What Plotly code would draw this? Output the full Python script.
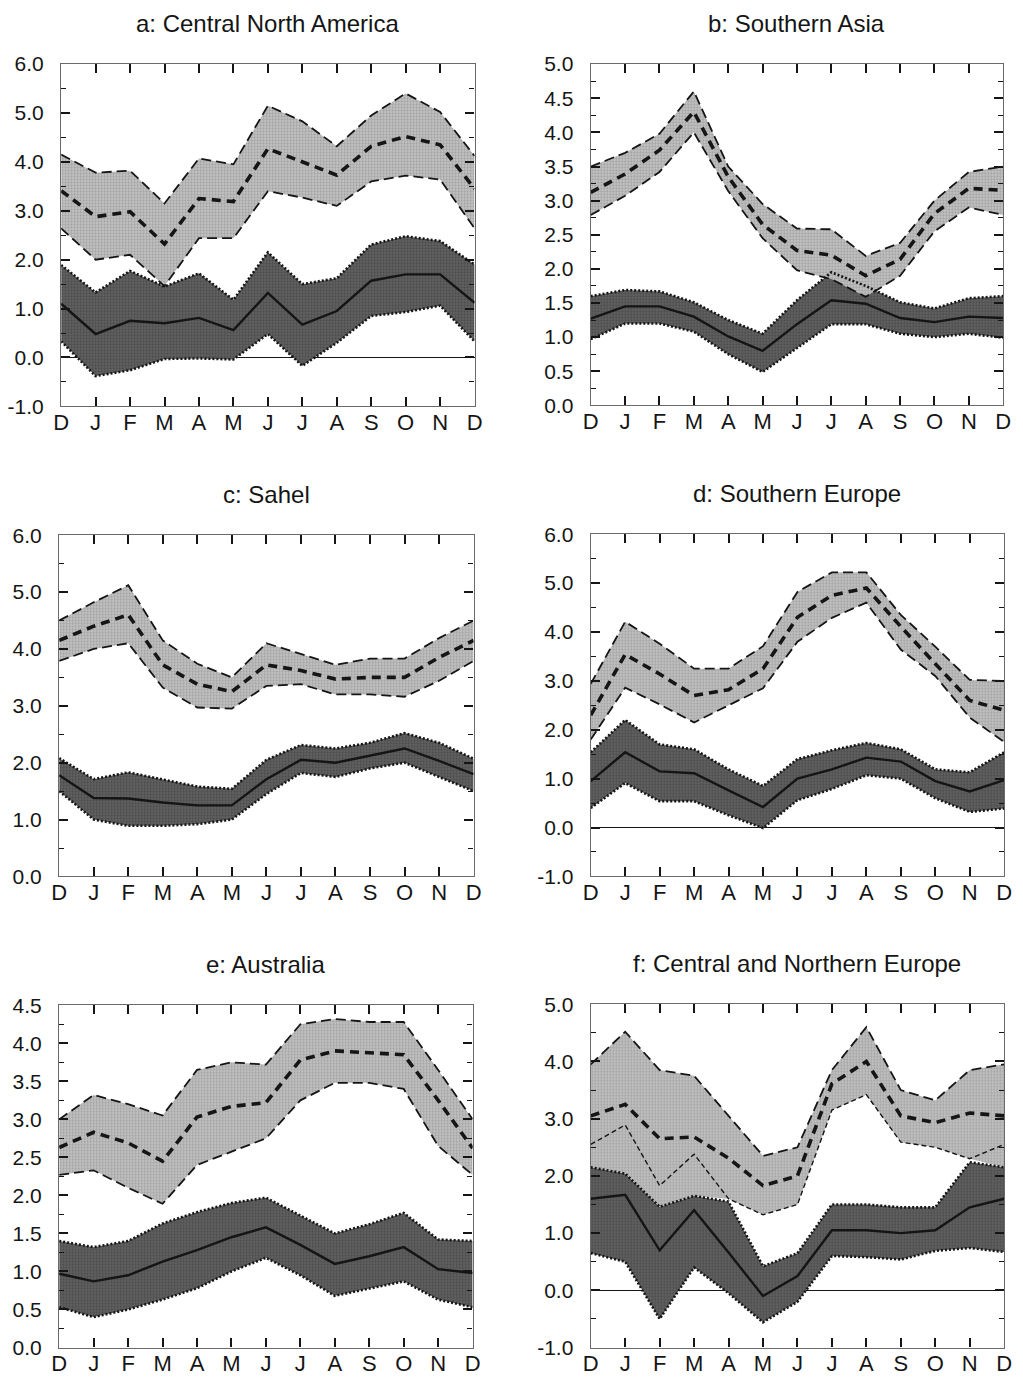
import plotly.graph_objects as go

W, H = 1023, 1389

months = ["D", "J", "F", "M", "A", "M", "J", "J", "A", "S", "O", "N", "D"]
x = list(range(len(months)))

# a: Central North America
a_light_up = [4.15, 3.78, 3.82, 3.15, 4.07, 3.95, 5.15, 4.83, 4.32, 4.95, 5.40, 5.02, 4.12]
a_light_mid = [3.41, 2.88, 2.98, 2.32, 3.25, 3.19, 4.27, 4.00, 3.73, 4.32, 4.52, 4.35, 3.45]
a_light_lo = [2.64, 2.00, 2.10, 1.46, 2.44, 2.44, 3.40, 3.27, 3.10, 3.60, 3.72, 3.64, 2.64]
a_dark_up = [1.89, 1.33, 1.77, 1.45, 1.72, 1.18, 2.15, 1.50, 1.62, 2.31, 2.48, 2.38, 1.90]
a_dark_mid = [1.10, 0.48, 0.75, 0.70, 0.81, 0.56, 1.32, 0.67, 0.95, 1.57, 1.70, 1.70, 1.12]
a_dark_lo = [0.33, -0.38, -0.26, -0.03, -0.02, -0.04, 0.48, -0.17, 0.30, 0.85, 0.93, 1.06, 0.33]

# b: Southern Asia
b_light_up = [3.50, 3.70, 3.98, 4.60, 3.50, 2.95, 2.59, 2.58, 2.19, 2.38, 3.00, 3.42, 3.50]
b_light_mid = [3.12, 3.39, 3.74, 4.30, 3.35, 2.65, 2.27, 2.20, 1.90, 2.14, 2.81, 3.18, 3.15]
b_light_lo = [2.79, 3.07, 3.42, 4.00, 3.14, 2.45, 1.98, 1.85, 1.59, 1.90, 2.55, 2.90, 2.79]
b_dark_up = [1.60, 1.69, 1.67, 1.51, 1.25, 1.05, 1.54, 1.95, 1.75, 1.51, 1.42, 1.57, 1.60]
b_dark_mid = [1.27, 1.45, 1.45, 1.30, 1.01, 0.80, 1.19, 1.54, 1.49, 1.28, 1.22, 1.30, 1.28]
b_dark_lo = [0.97, 1.20, 1.20, 1.08, 0.75, 0.49, 0.84, 1.19, 1.19, 1.05, 1.00, 1.05, 0.99]

# c: Sahel
c_light_up = [4.50, 4.82, 5.12, 4.15, 3.74, 3.50, 4.10, 3.91, 3.72, 3.83, 3.83, 4.19, 4.50]
c_light_mid = [4.15, 4.40, 4.60, 3.72, 3.38, 3.25, 3.72, 3.62, 3.47, 3.50, 3.50, 3.85, 4.15]
c_light_lo = [3.79, 4.00, 4.10, 3.32, 2.97, 2.95, 3.35, 3.38, 3.20, 3.20, 3.16, 3.44, 3.79]
c_dark_up = [2.08, 1.71, 1.83, 1.70, 1.58, 1.54, 2.05, 2.31, 2.25, 2.35, 2.52, 2.35, 2.07]
c_dark_mid = [1.78, 1.38, 1.37, 1.30, 1.25, 1.25, 1.71, 2.05, 2.00, 2.12, 2.25, 2.03, 1.80]
c_dark_lo = [1.50, 1.00, 0.89, 0.89, 0.92, 1.00, 1.45, 1.82, 1.75, 1.90, 2.00, 1.75, 1.50]

# d: Southern Europe
d_light_up = [2.94, 4.21, 3.76, 3.25, 3.25, 3.71, 4.82, 5.22, 5.22, 4.35, 3.70, 3.02, 3.00]
d_light_mid = [2.30, 3.54, 3.14, 2.70, 2.82, 3.25, 4.30, 4.75, 4.90, 4.11, 3.35, 2.60, 2.40]
d_light_lo = [1.80, 2.86, 2.52, 2.15, 2.50, 2.85, 3.80, 4.29, 4.60, 3.64, 3.10, 2.25, 1.75]
d_dark_up = [1.54, 2.20, 1.70, 1.60, 1.19, 0.85, 1.40, 1.58, 1.73, 1.60, 1.19, 1.13, 1.54]
d_dark_mid = [0.95, 1.54, 1.15, 1.11, 0.76, 0.42, 1.00, 1.19, 1.43, 1.35, 0.95, 0.74, 0.97]
d_dark_lo = [0.40, 0.91, 0.54, 0.54, 0.25, -0.01, 0.56, 0.79, 1.07, 1.00, 0.60, 0.32, 0.39]

# e: Australia
e_light_up = [3.00, 3.32, 3.20, 3.05, 3.65, 3.75, 3.72, 4.25, 4.32, 4.28, 4.28, 3.65, 3.00]
e_light_mid = [2.63, 2.83, 2.69, 2.45, 3.03, 3.17, 3.22, 3.78, 3.90, 3.88, 3.85, 3.25, 2.62]
e_light_lo = [2.27, 2.33, 2.10, 1.89, 2.40, 2.58, 2.75, 3.25, 3.48, 3.48, 3.40, 2.65, 2.27]
e_dark_up = [1.40, 1.32, 1.40, 1.63, 1.78, 1.90, 1.97, 1.74, 1.50, 1.62, 1.77, 1.42, 1.40]
e_dark_mid = [0.97, 0.87, 0.95, 1.13, 1.28, 1.45, 1.58, 1.35, 1.10, 1.20, 1.32, 1.03, 0.98]
e_dark_lo = [0.53, 0.40, 0.50, 0.63, 0.78, 1.00, 1.18, 0.95, 0.68, 0.78, 0.87, 0.63, 0.53]

# f: Central and Northern Europe (shaded floor of the light band sits below its dashed lower edge)
f_light_up = [3.95, 4.52, 3.85, 3.75, 3.05, 2.35, 2.50, 3.85, 4.60, 3.50, 3.32, 3.85, 3.95]
f_light_mid = [3.05, 3.25, 2.65, 2.68, 2.31, 1.83, 2.00, 3.61, 4.00, 3.05, 2.93, 3.10, 3.05]
f_light_lo = [2.55, 2.89, 1.83, 2.38, 1.60, 1.32, 1.50, 3.15, 3.42, 2.59, 2.50, 2.30, 2.55]
f_light_floor = [2.15, 2.05, 1.46, 1.65, 1.60, 1.32, 1.50, 3.15, 3.42, 2.59, 2.50, 2.30, 2.15]
f_dark_up = [2.15, 2.04, 1.46, 1.65, 1.55, 0.42, 0.65, 1.50, 1.50, 1.45, 1.45, 2.24, 2.15]
f_dark_mid = [1.60, 1.67, 0.70, 1.40, 0.66, -0.10, 0.25, 1.05, 1.05, 1.00, 1.05, 1.45, 1.60]
f_dark_lo = [0.65, 0.50, -0.50, 0.40, -0.05, -0.56, -0.20, 0.60, 0.58, 0.54, 0.69, 0.74, 0.67]

panels = [
    dict(title="a: Central North America", box=(54, 474, 53, 401), yr=(-1, 6), major=1.0, minor=0.5,
         lu=a_light_up, lm=a_light_mid, ll=a_light_lo, lf=a_light_lo,
         du=a_dark_up, dm=a_dark_mid, dl=a_dark_lo),
    dict(title="b: Southern Asia", box=(592, 1011, 53, 400), yr=(0, 5), major=0.5, minor=0.25,
         lu=b_light_up, lm=b_light_mid, ll=b_light_lo, lf=b_light_lo,
         du=b_dark_up, dm=b_dark_mid, dl=b_dark_lo),
    dict(title="c: Sahel", box=(52, 473, 532, 879), yr=(0, 6), major=1.0, minor=0.5,
         lu=c_light_up, lm=c_light_mid, ll=c_light_lo, lf=c_light_lo,
         du=c_dark_up, dm=c_dark_mid, dl=c_dark_lo),
    dict(title="d: Southern Europe", box=(592, 1012, 531, 879), yr=(-1, 6), major=1.0, minor=0.5,
         lu=d_light_up, lm=d_light_mid, ll=d_light_lo, lf=d_light_lo,
         du=d_dark_up, dm=d_dark_mid, dl=d_dark_lo),
    dict(title="e: Australia", box=(52, 472, 1010, 1358), yr=(0, 4.5), major=0.5, minor=0.25,
         lu=e_light_up, lm=e_light_mid, ll=e_light_lo, lf=e_light_lo,
         du=e_dark_up, dm=e_dark_mid, dl=e_dark_lo),
    dict(title="f: Central and Northern Europe", box=(592, 1012, 1009, 1358), yr=(-1, 5), major=1.0, minor=0.5,
         lu=f_light_up, lm=f_light_mid, ll=f_light_lo, lf=f_light_floor,
         du=f_dark_up, dm=f_dark_mid, dl=f_dark_lo),
]

LIGHT_FILL = "#b8b8b8"
DARK_FILL = "#5a5a5a"
LIGHT_PATTERN = dict(shape=".", bgcolor="#c6c6c6", fgcolor="#7a7a7a", size=3, solidity=0.45)
DARK_PATTERN = dict(shape=".", bgcolor="#646464", fgcolor="#303030", size=3, solidity=0.45)
INK = "#151515"
FONT = "Liberation Sans, Arial, Helvetica, sans-serif"

fig = go.Figure()


def band(xa, ya, lower, upper, color, pattern):
    fig.add_trace(go.Scatter(x=x, y=lower, xaxis=xa, yaxis=ya, mode="lines",
                             line=dict(width=0, color=color), hoverinfo="skip", showlegend=False))
    fig.add_trace(go.Scatter(x=x, y=upper, xaxis=xa, yaxis=ya, mode="lines", fill="tonexty",
                             fillcolor=color, fillpattern=pattern, line=dict(width=0, color=color),
                             hoverinfo="skip", showlegend=False))


def curve(xa, ya, vals, width, dash):
    fig.add_trace(go.Scatter(x=x, y=vals, xaxis=xa, yaxis=ya, mode="lines",
                             line=dict(width=width, color=INK, dash=dash),
                             hoverinfo="skip", showlegend=False))


annotations = []
for i, p in enumerate(panels, start=1):
    xa, ya = f"x{i}", f"y{i}"
    band(xa, ya, p["dl"], p["du"], DARK_FILL, DARK_PATTERN)
    band(xa, ya, p["lf"], p["lu"], LIGHT_FILL, LIGHT_PATTERN)
    curve(xa, ya, p["lu"], 1.8, "10px,5px")
    if p["ll"] is p["lf"]:
        curve(xa, ya, p["ll"], 1.8, "10px,5px")
    else:
        curve(xa, ya, p["ll"], 1.4, "5px,3px")
    curve(xa, ya, p["lm"], 3.6, "9px,6px")
    curve(xa, ya, p["du"], 2.6, "2px,2px")
    curve(xa, ya, p["dl"], 2.6, "2px,2px")
    curve(xa, ya, p["dm"], 2.4, "solid")

    x0, x1, y0, y1 = p["box"]
    ylo, yhi = p["yr"]
    n_major = int(round((yhi - ylo) / p["major"]))
    yvals = [round(ylo + k * p["major"], 2) for k in range(n_major + 1)]
    axis_common = dict(showline=True, linecolor="#6a6a6a", linewidth=1.4, mirror="allticks",
                       ticks="inside", tickcolor=INK, tickwidth=1.6, ticklen=9,
                       showgrid=False, fixedrange=True)
    fig.layout[f"xaxis{i}"] = dict(
        domain=[x0 / W, x1 / W], anchor=ya, range=[0, 12],
        tickmode="array", tickvals=x, ticktext=months,
        tickfont=dict(family=FONT, size=22, color=INK), ticklabelstandoff=-4,
        zeroline=False, **axis_common)
    fig.layout[f"yaxis{i}"] = dict(
        domain=[1 - y1 / H, 1 - y0 / H], anchor=xa, range=[ylo, yhi],
        tickmode="array", tickvals=yvals, ticktext=[f"{v:.1f}" for v in yvals],
        tickfont=dict(family=FONT, size=21, color=INK), ticklabelstandoff=12,
        minor=dict(dtick=p["minor"], tick0=0, ticks="inside", ticklen=5,
                   tickcolor=INK, tickwidth=1.4, showgrid=False),
        zeroline=ylo < 0, zerolinecolor=INK, zerolinewidth=1.4,
        **axis_common)
    annotations.append(dict(text=p["title"], xref="paper", yref="paper",
                            x=(x0 + x1) / 2 / W, y=1 - (y0 - 26) / H,
                            xanchor="center", yanchor="bottom", showarrow=False,
                            font=dict(family=FONT, size=24, color=INK)))

fig.update_layout(width=W, height=H, margin=dict(l=0, r=0, t=0, b=0),
                  paper_bgcolor="white", plot_bgcolor="white",
                  annotations=annotations, showlegend=False)

fig.write_html("out.html")
